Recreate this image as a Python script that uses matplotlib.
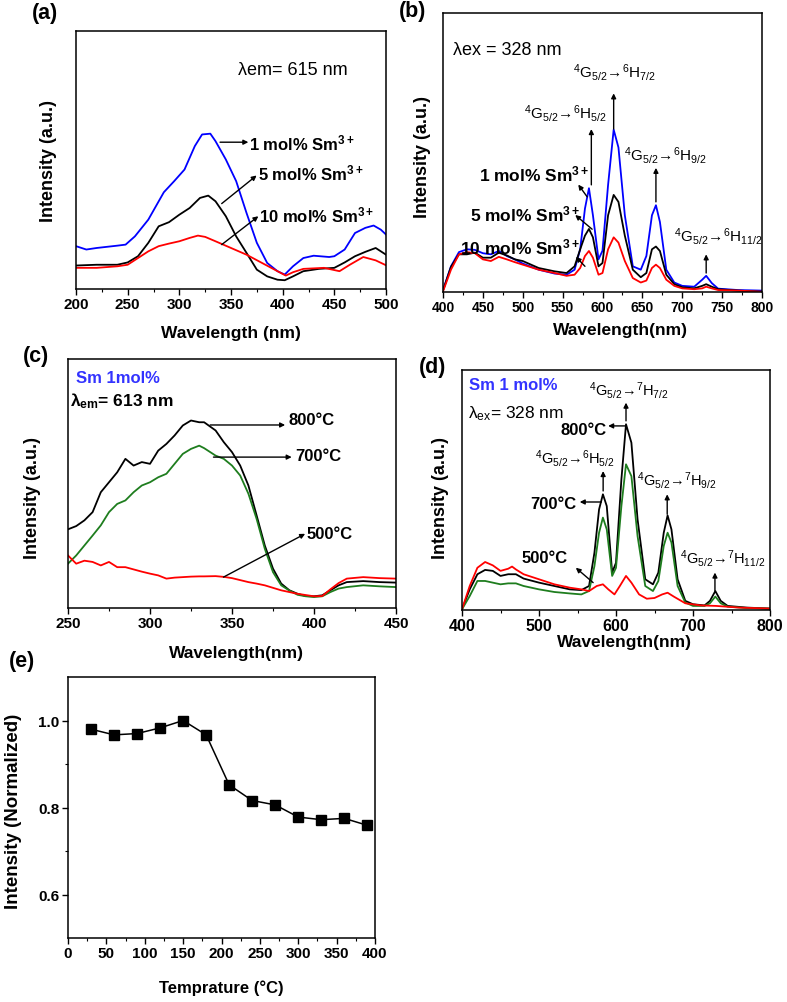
import matplotlib
matplotlib.use("Agg")
import matplotlib.pyplot as plt
from matplotlib.ticker import MultipleLocator, FixedLocator, FormatStrFormatter

plt.rcParams['font.family'] = ['Liberation Sans', 'DejaVu Sans']
plt.rcParams['mathtext.fontset'] = 'custom'
plt.rcParams['mathtext.rm'] = 'Liberation Sans'
plt.rcParams['mathtext.it'] = 'Liberation Sans:italic'
plt.rcParams['mathtext.bf'] = 'Liberation Sans:bold'
plt.rcParams['mathtext.default'] = 'regular'

# ---------------- data (intensities in arbitrary units) ----------------
# (a) excitation spectra, lambda_em = 615 nm
a_x_1 = [200, 210, 220, 240, 248, 257, 270, 285, 295, 305, 315, 322, 330, 335, 345, 355,
         365, 375, 385, 395, 402, 410, 420, 430, 445, 450, 460, 470, 480, 488, 495, 500]
a_y_1 = [0.166, 0.153, 0.159, 0.168, 0.172, 0.204, 0.269, 0.375, 0.418, 0.463, 0.554, 0.599,
         0.602, 0.573, 0.502, 0.418, 0.295, 0.179, 0.101, 0.069, 0.056, 0.088, 0.120, 0.129,
         0.124, 0.127, 0.153, 0.217, 0.237, 0.246, 0.230, 0.211]
a_x_5 = [200, 220, 240, 250, 260, 270, 280, 290, 300, 310, 320, 328, 335, 345, 355, 365,
         375, 385, 395, 402, 410, 420, 435, 450, 460, 470, 480, 490, 500]
a_y_5 = [0.091, 0.094, 0.094, 0.103, 0.127, 0.179, 0.243, 0.259, 0.288, 0.314, 0.353, 0.362,
         0.340, 0.282, 0.204, 0.140, 0.075, 0.049, 0.036, 0.034, 0.049, 0.069, 0.078, 0.082,
         0.103, 0.127, 0.144, 0.159, 0.133]
a_x_10 = [200, 220, 240, 250, 260, 270, 280, 290, 300, 310, 318, 325, 335, 350, 365, 380,
          395, 403, 410, 420, 440, 455, 465, 478, 490, 500]
a_y_10 = [0.082, 0.082, 0.088, 0.094, 0.120, 0.146, 0.166, 0.176, 0.185, 0.198, 0.207, 0.202,
          0.185, 0.159, 0.133, 0.101, 0.069, 0.052, 0.065, 0.078, 0.082, 0.069, 0.094, 0.124,
          0.111, 0.092]

# (b) emission spectra, lambda_ex = 328 nm
b_x = [400, 410, 420, 430, 440, 450, 460, 470, 480, 490, 500, 520, 540, 555, 565, 572, 578,
       583, 588, 595, 600, 607, 614, 620, 628, 638, 648, 655, 662, 667, 672, 680, 690, 700,
       715, 725, 730, 737, 745, 770, 800]
b_y_1 = [0.007, 0.092, 0.143, 0.153, 0.151, 0.139, 0.135, 0.147, 0.129, 0.117, 0.102, 0.080,
         0.066, 0.062, 0.080, 0.153, 0.299, 0.372, 0.275, 0.117, 0.148, 0.384, 0.582, 0.518,
         0.275, 0.092, 0.080, 0.129, 0.275, 0.311, 0.251, 0.080, 0.034, 0.022, 0.019, 0.044,
         0.058, 0.032, 0.012, 0.007, 0.005]
b_y_5 = [0.005, 0.090, 0.135, 0.135, 0.141, 0.123, 0.123, 0.141, 0.131, 0.117, 0.111, 0.086,
         0.074, 0.068, 0.092, 0.153, 0.202, 0.226, 0.196, 0.092, 0.104, 0.275, 0.348, 0.323,
         0.202, 0.080, 0.053, 0.068, 0.153, 0.163, 0.147, 0.062, 0.028, 0.017, 0.013, 0.022,
         0.028, 0.019, 0.010, 0.005, 0.001]
b_y_10 = [0.002, 0.080, 0.135, 0.143, 0.139, 0.117, 0.111, 0.126, 0.117, 0.107, 0.098, 0.080,
          0.068, 0.058, 0.062, 0.086, 0.129, 0.147, 0.123, 0.062, 0.068, 0.153, 0.196, 0.177,
          0.111, 0.050, 0.034, 0.041, 0.086, 0.098, 0.086, 0.044, 0.022, 0.013, 0.010, 0.013,
          0.019, 0.013, 0.007, 0.005, 0.001]

# (c) excitation spectra vs calcination temperature, lambda_em = 613 nm
c_x = [250, 255, 260, 265, 270, 275, 280, 285, 290, 295, 300, 305, 310, 315, 320, 325, 330,
       333, 340, 345, 350, 355, 360, 365, 370, 375, 380, 385, 390, 395, 400, 405, 410, 415,
       420, 430, 440, 450]
c_y_800 = [0.316, 0.329, 0.352, 0.385, 0.465, 0.505, 0.545, 0.599, 0.572, 0.586, 0.579, 0.632,
           0.659, 0.693, 0.733, 0.753, 0.746, 0.746, 0.713, 0.666, 0.626, 0.572, 0.492, 0.372,
           0.251, 0.158, 0.098, 0.071, 0.057, 0.048, 0.047, 0.051, 0.071, 0.091, 0.104, 0.108,
           0.104, 0.102]
c_y_700 = [0.178, 0.211, 0.251, 0.291, 0.332, 0.385, 0.418, 0.432, 0.465, 0.492, 0.505, 0.525,
           0.539, 0.579, 0.619, 0.639, 0.652, 0.642, 0.612, 0.599, 0.572, 0.532, 0.459, 0.358,
           0.238, 0.144, 0.091, 0.070, 0.053, 0.047, 0.044, 0.047, 0.064, 0.078, 0.084, 0.091,
           0.087, 0.084]
c_y_500 = [0.211, 0.178, 0.190, 0.185, 0.171, 0.185, 0.164, 0.164, 0.155, 0.146, 0.138, 0.131,
           0.118, 0.122, 0.124, 0.126, 0.127, 0.127, 0.128, 0.125, 0.120, 0.112, 0.104, 0.098,
           0.091, 0.081, 0.071, 0.064, 0.057, 0.052, 0.047, 0.048, 0.075, 0.100, 0.118, 0.124,
           0.120, 0.118]

# (d) emission spectra vs calcination temperature, lambda_ex = 328 nm
d_x = [400, 410, 420, 430, 440, 450, 460, 470, 480, 500, 520, 540, 555, 565, 572, 578, 583,
       588, 595, 600, 607, 613, 620, 628, 638, 648, 655, 662, 667, 672, 680, 690, 700, 715,
       722, 729, 736, 745, 770, 800]
d_y_800 = [0.003, 0.086, 0.149, 0.167, 0.163, 0.142, 0.149, 0.149, 0.131, 0.114, 0.100, 0.086,
           0.083, 0.100, 0.239, 0.419, 0.482, 0.433, 0.156, 0.197, 0.544, 0.774, 0.697, 0.378,
           0.128, 0.107, 0.156, 0.322, 0.394, 0.336, 0.128, 0.038, 0.024, 0.019, 0.038, 0.079,
           0.038, 0.017, 0.010, 0.006]
d_y_700 = [0.003, 0.058, 0.121, 0.121, 0.114, 0.107, 0.111, 0.111, 0.100, 0.086, 0.075, 0.069,
           0.065, 0.079, 0.183, 0.322, 0.385, 0.336, 0.142, 0.176, 0.433, 0.607, 0.558, 0.308,
           0.100, 0.079, 0.121, 0.267, 0.322, 0.281, 0.100, 0.031, 0.017, 0.017, 0.028, 0.056,
           0.028, 0.014, 0.008, 0.006]
d_x_500 = [400, 410, 420, 430, 440, 450, 460, 465, 470, 480, 500, 520, 540, 555, 565, 575, 583,
           590, 598, 605, 613, 620, 630, 640, 650, 660, 667, 675, 690, 710, 730, 760, 800]
d_y_500 = [0.003, 0.100, 0.176, 0.200, 0.186, 0.163, 0.172, 0.181, 0.169, 0.149, 0.128, 0.107,
           0.093, 0.086, 0.079, 0.100, 0.107, 0.086, 0.065, 0.100, 0.142, 0.114, 0.065, 0.047,
           0.050, 0.065, 0.072, 0.056, 0.028, 0.019, 0.017, 0.010, 0.006]

# (e) normalized intensity vs temperature
e_temp = [30, 60, 90, 120, 150, 180, 210, 240, 270, 300, 330, 360, 390]
e_int = [0.980, 0.967, 0.970, 0.983, 1.000, 0.967, 0.852, 0.816, 0.806, 0.778, 0.772, 0.775, 0.759]

# ---------------- figure ----------------
W, H = 787, 1003
fig = plt.figure(figsize=(W / 100, H / 100), dpi=100)


def make_axes(left, top, right, bottom):
    return fig.add_axes([left / W, 1 - bottom / H, (right - left) / W, (bottom - top) / H])


def style(ax, xlim, major, minor, tsize, ylim=(0, 1), yticks=False):
    ax.set_xlim(*xlim)
    ax.set_ylim(*ylim)
    ax.xaxis.set_major_locator(MultipleLocator(major))
    ax.xaxis.set_minor_locator(MultipleLocator(minor))
    ax.tick_params(axis='x', which='major', direction='out', length=4, width=1, pad=2,
                   labelsize=tsize, top=False)
    ax.tick_params(axis='x', which='minor', direction='out', length=2.5, width=0.8, top=False)
    if not yticks:
        ax.tick_params(axis='y', which='both', left=False, right=False, labelleft=False)
    for lab in ax.get_xticklabels() + ax.get_yticklabels():
        lab.set_fontweight('bold')
    for sp in ax.spines.values():
        sp.set_linewidth(1.1)


def labels(ax, xl, yl, xpos, ypos, xs=12.5, ys=13):
    ax.set_xlabel(xl, fontsize=xs, fontweight='bold', va='center')
    ax.set_ylabel(yl, fontsize=ys, fontweight='bold', va='center')
    ax.xaxis.set_label_coords(*xpos)
    ax.yaxis.set_label_coords(*ypos)


def arrow(ax, head, tail):
    ax.annotate('', xy=head, xytext=tail,
                arrowprops=dict(arrowstyle='-|>', color='k', lw=1.0, mutation_scale=7,
                                shrinkA=0, shrinkB=0))


lw = 1.3
blue, red, green = '#0000ff', '#ff0000', '#1e7d1e'
sm3 = r' mol% Sm$^{\mathbf{3+}}$'

# (a)
ax = make_axes(76, 32, 386, 290)
ax.plot(a_x_1, a_y_1, color=blue, lw=lw)
ax.plot(a_x_5, a_y_5, color='k', lw=lw)
ax.plot(a_x_10, a_y_10, color=red, lw=lw)
style(ax, (200, 500), 50, 25, 11)
labels(ax, 'Wavelength (nm)', 'Intensity (a.u.)', (0.5, -0.167), (-0.09, 0.5))
ax.text(357, 0.849, 'λem= 615 nm', fontsize=13, va='center')
ax.text(367.7, 0.569, '1' + sm3, fontsize=12, fontweight='bold', va='center')
ax.text(376.5, 0.450, '5' + sm3, fontsize=12, fontweight='bold', va='center')
ax.text(377.4, 0.288, '10' + sm3, fontsize=12, fontweight='bold', va='center')
arrow(ax, (366.8, 0.569), (339.4, 0.569))
arrow(ax, (374.8, 0.440), (341, 0.331))
arrow(ax, (376.5, 0.282), (341, 0.172))

# (b)
ax = make_axes(443, 14, 762, 293)
ax.plot(b_x, b_y_1, color=blue, lw=lw)
ax.plot(b_x, b_y_5, color='k', lw=lw)
ax.plot(b_x, b_y_10, color=red, lw=lw)
style(ax, (400, 800), 50, 25, 10)
labels(ax, 'Wavelength(nm)', 'Intensity (a.u.)', (0.556, -0.133), (-0.063, 0.487))
ax.text(413, 0.870, 'λex = 328 nm', fontsize=13, va='center')
ax.text(615, 0.791, '$^{4}$G$_{5/2}$→$^{6}$H$_{7/2}$', fontsize=11, ha='center', va='center')
ax.text(553, 0.645, '$^{4}$G$_{5/2}$→$^{6}$H$_{5/2}$', fontsize=11, ha='center', va='center')
ax.text(679, 0.493, '$^{4}$G$_{5/2}$→$^{6}$H$_{9/2}$', fontsize=11, ha='center', va='center')
ax.text(745, 0.202, '$^{4}$G$_{5/2}$→$^{6}$H$_{11/2}$', fontsize=11, ha='center', va='center')
arrow(ax, (614, 0.712), (614, 0.584))
arrow(ax, (586, 0.584), (586, 0.384))
arrow(ax, (667, 0.445), (667, 0.323))
arrow(ax, (730, 0.135), (730, 0.068))
ax.text(444.6, 0.426, '1' + sm3, fontsize=12.5, fontweight='bold', va='center')
ax.text(434, 0.281, '5' + sm3, fontsize=12.5, fontweight='bold', va='center')
ax.text(421.7, 0.165, '10' + sm3, fontsize=12.5, fontweight='bold', va='center')
arrow(ax, (569.6, 0.385), (580.8, 0.341))
arrow(ax, (565.8, 0.276), (587, 0.225))
arrow(ax, (566.7, 0.126), (578, 0.092))

# (c)
ax = make_axes(68, 360, 396, 609)
ax.plot(c_x, c_y_800, color='k', lw=lw)
ax.plot(c_x, c_y_700, color=green, lw=lw)
ax.plot(c_x, c_y_500, color=red, lw=lw)
style(ax, (250, 450), 50, 25, 11)
labels(ax, 'Wavelength(nm)', 'Intensity (a.u.)', (0.514, -0.177), (-0.107, 0.446))
ax.text(255, 0.926, 'Sm 1mol%', fontsize=12, fontweight='bold', color='#3333ff', va='center')
ax.text(251.4, 0.833, r'λ$_{\mathbf{em}}$= 613 nm', fontsize=12.5, fontweight='bold', va='center')
ax.text(384.4, 0.759, '800°C', fontsize=12, fontweight='bold', va='center')
ax.text(388.5, 0.612, '700°C', fontsize=12, fontweight='bold', va='center')
ax.text(395.6, 0.298, '500°C', fontsize=12, fontweight='bold', va='center')
arrow(ax, (382.4, 0.735), (336.7, 0.735))
arrow(ax, (386.4, 0.606), (338.7, 0.606))
arrow(ax, (394.6, 0.298), (344.8, 0.124))

# (d)
ax = make_axes(462, 371, 770, 611)
ax.plot(d_x, d_y_800, color='k', lw=lw)
ax.plot(d_x, d_y_700, color=green, lw=lw)
ax.plot(d_x_500, d_y_500, color=red, lw=lw)
style(ax, (400, 800), 100, 50, 11.5)
labels(ax, 'Wavelength(nm)', 'Intensity (a.u.)', (0.528, -0.133), (-0.071, 0.47))
ax.text(409.7, 0.9375, 'Sm 1 mol%', fontsize=12, fontweight='bold', color='#3333ff', va='center')
ax.text(407.8, 0.822, 'λ$_{ex}$= 328 nm', fontsize=12.5, va='center')
ax.text(616.7, 0.919, '$^{4}$G$_{5/2}$→$^{7}$H$_{7/2}$', fontsize=10.5, ha='center', va='center')
ax.text(547, 0.635, '$^{4}$G$_{5/2}$→$^{6}$H$_{5/2}$', fontsize=10.5, ha='center', va='center')
ax.text(678.7, 0.544, '$^{4}$G$_{5/2}$→$^{7}$H$_{9/2}$', fontsize=10.5, ha='center', va='center')
ax.text(738, 0.218, '$^{4}$G$_{5/2}$→$^{7}$H$_{11/2}$', fontsize=10.5, ha='center', va='center')
arrow(ax, (613, 0.864), (613, 0.788))
arrow(ax, (583.3, 0.579), (583.3, 0.496))
arrow(ax, (666.5, 0.482), (666.5, 0.399))
arrow(ax, (728.5, 0.156), (728.5, 0.079))
ax.text(587.6, 0.753, '800°C', fontsize=12, fontweight='bold', ha='right', va='center')
ax.text(548.6, 0.444, '700°C', fontsize=12, fontweight='bold', ha='right', va='center')
ax.text(477, 0.218, '500°C', fontsize=12, fontweight='bold', va='center')
arrow(ax, (589.8, 0.767), (611.5, 0.767))
arrow(ax, (552.9, 0.45), (581, 0.45))
arrow(ax, (547.8, 0.176), (570.3, 0.114))

# (e)
ax = make_axes(68, 678, 375, 939)
ax.plot(e_temp, e_int, color='k', lw=1.1, marker='s', markersize=7)
style(ax, (0, 400), 50, 25, 11, ylim=(0.5, 1.1), yticks=True)
ax.yaxis.set_major_locator(FixedLocator([0.6, 0.8, 1.0]))
ax.yaxis.set_minor_locator(FixedLocator([0.7, 0.9]))
ax.yaxis.set_major_formatter(FormatStrFormatter('%.1f'))
ax.tick_params(axis='y', which='major', direction='out', length=4, width=1, pad=2,
               labelsize=11, right=False)
ax.tick_params(axis='y', which='minor', direction='out', length=2.5, width=0.8, right=False)
for lab in ax.get_xticklabels() + ax.get_yticklabels():
    lab.set_fontweight('bold')
labels(ax, 'Temprature (°C)', 'Intensity (Normalized)', (0.5, -0.188), (-0.179, 0.49),
       xs=12, ys=13.5)

# panel letters
for letter, (px, py) in zip('abcde', [(45, 14), (413, 11), (36, 357), (433, 367), (22, 662)]):
    fig.text(px / W, 1 - py / H, '(%s)' % letter, fontsize=15.5, fontweight='bold',
             ha='center', va='center')

fig.savefig('out.png', dpi=100)
